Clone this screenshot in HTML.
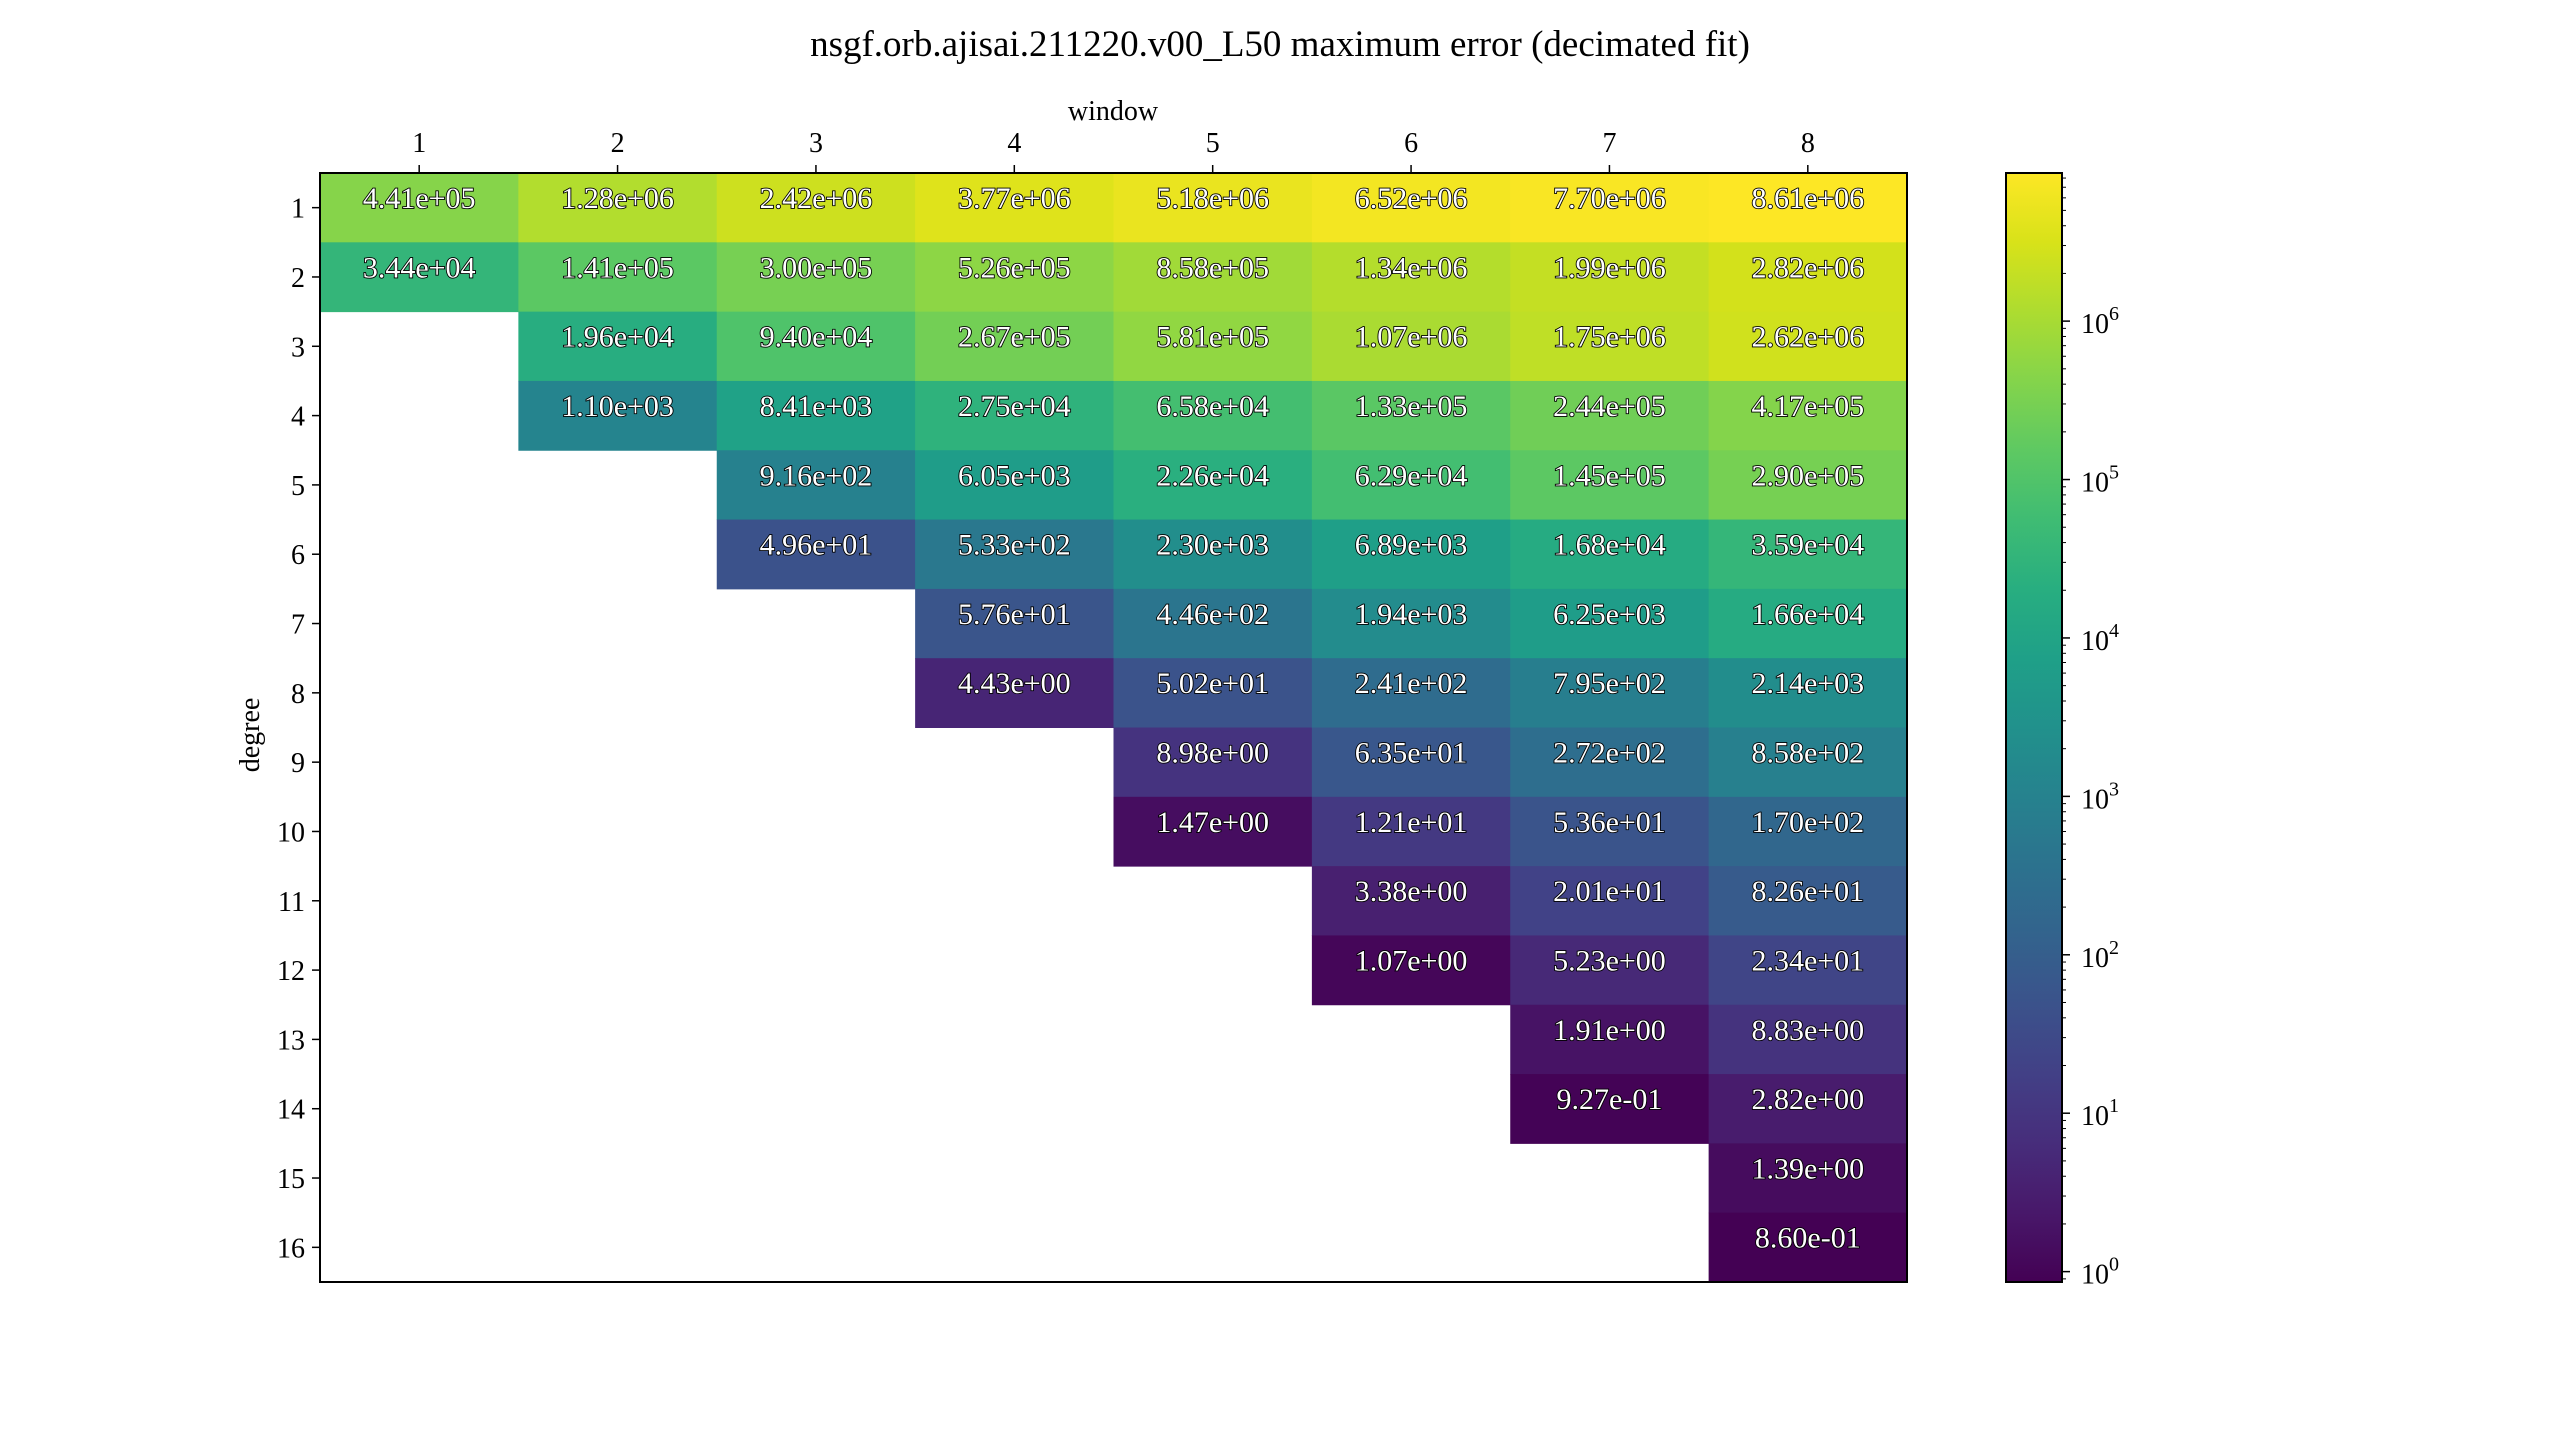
<!DOCTYPE html>
<html><head><meta charset="utf-8"><style>
html,body{margin:0;padding:0;background:#fff}
svg text{font-family:"Liberation Serif","Times New Roman",serif;fill:#000}
</style></head><body>
<svg id="chart" width="2560" height="1440" viewBox="0 0 2560 1440" xmlns="http://www.w3.org/2000/svg">
<defs>
<linearGradient id="viridis" x1="0" y1="1" x2="0" y2="0"></linearGradient>
</defs>
<text x="1280" y="56" text-anchor="middle" font-size="37">nsgf.orb.ajisai.211220.v00_L50 maximum error (decimated fit)</text>
<text x="1113" y="120" text-anchor="middle" font-size="28">window</text>
<text transform="translate(259,735) rotate(-90)" text-anchor="middle" font-size="28">degree</text>
<g id="cells"></g>
<rect x="320" y="173" width="1587" height="1109" fill="none" stroke="#000" stroke-width="2"/>
<g id="xticks"></g>
<g id="yticks"></g>
<g id="cbar"></g>
</svg>
<script>
const windows = [1,2,3,4,5,6,7,8];
const degrees = [1,2,3,4,5,6,7,8,9,10,11,12,13,14,15,16];
const w1 = [4.41e5,3.44e4];
const w2 = [1.28e6,1.41e5,1.96e4,1.10e3];
const w3 = [2.42e6,3.00e5,9.40e4,8.41e3,9.16e2,4.96e1];
const w4 = [3.77e6,5.26e5,2.67e5,2.75e4,6.05e3,5.33e2,5.76e1,4.43e0];
const w5 = [5.18e6,8.58e5,5.81e5,6.58e4,2.26e4,2.30e3,4.46e2,5.02e1,8.98e0,1.47e0];
const w6 = [6.52e6,1.34e6,1.07e6,1.33e5,6.29e4,6.89e3,1.94e3,2.41e2,6.35e1,1.21e1,3.38e0,1.07e0];
const w7 = [7.70e6,1.99e6,1.75e6,2.44e5,1.45e5,1.68e4,6.25e3,7.95e2,2.72e2,5.36e1,2.01e1,5.23e0,1.91e0,9.27e-1];
const w8 = [8.61e6,2.82e6,2.62e6,4.17e5,2.90e5,3.59e4,1.66e4,2.14e3,8.58e2,1.70e2,8.26e1,2.34e1,8.83e0,2.82e0,1.39e0,8.60e-1];
const columns = [w1,w2,w3,w4,w5,w6,w7,w8];
const cbarExponents = [0,1,2,3,4,5,6];

const NS="http://www.w3.org/2000/svg";
const L=320,T=173,R=1907,B=1282;
const cw=(R-L)/windows.length, rh=(B-T)/degrees.length;
const all=[].concat(...columns);
const vmin=Math.min(...all), vmax=Math.max(...all);
const lmin=Math.log10(vmin), lmax=Math.log10(vmax);
const vir=["#440154","#48186a","#472d7b","#424086","#3b528b","#33638d","#2c728e","#26828e","#21918c","#1fa088","#28ae80","#3fbc73","#5ec962","#84d44b","#addc30","#d8e219","#fde725"];
function hex(h){return [1,3,5].map(i=>parseInt(h.substr(i,2),16));}
function cmap(t){t=Math.max(0,Math.min(1,t));const p=t*(vir.length-1);const i=Math.min(Math.floor(p),vir.length-2);const f=p-i;const a=hex(vir[i]),b=hex(vir[i+1]);return "rgb("+a.map((v,k)=>Math.round(v+(b[k]-v)*f)).join(",")+")";}
function norm(v){return (Math.log10(v)-lmin)/(lmax-lmin);}
function xPos(w){return L+(w-0.5)*cw;}
function yPos(d){return T+(d-0.5)*rh;}
function fmt(v){const s=v.toExponential(2);const [m,e]=s.split("e");const sign=e[0];let d=e.slice(1);if(d.length<2)d="0"+d;return m+"e"+sign+d;}
function mk(tag,attrs,parent){const el=document.createElementNS(NS,tag);for(const k in attrs)el.setAttribute(k,attrs[k]);parent.appendChild(el);return el;}

const cells=document.getElementById("cells");
columns.forEach((col,ci)=>{
  col.forEach((v,ri)=>{
    const x=xPos(windows[ci])-cw/2, y=yPos(degrees[ri])-rh/2;
    const r=mk("rect",{x:x,y:y,width:cw+0.5,height:rh+0.5,fill:cmap(norm(v))},cells);
    
    
    const t=mk("text",{x:xPos(windows[ci]),y:y+35,"text-anchor":"middle","font-size":"30",fill:"#fff",stroke:"#000","stroke-width":"1.8","paint-order":"stroke"},cells);
    
    
    t.style.fill="#fff";
    t.textContent=fmt(v);
  });
});
const xt=document.getElementById("xticks");
windows.forEach(w=>{
  const l=mk("line",{x1:xPos(w),x2:xPos(w),y1:T,y2:T-8,stroke:"#000","stroke-width":"1.5"},xt);
  
  
  const t=mk("text",{x:xPos(w),y:152,"text-anchor":"middle","font-size":"28"},xt);
  
  
  t.textContent=w;
});
const yt=document.getElementById("yticks");
degrees.forEach(d=>{
  const l=mk("line",{x1:L,x2:L-8,y1:yPos(d),y2:yPos(d),stroke:"#000","stroke-width":"1.5"},yt);
  
  
  const t=mk("text",{x:305,y:yPos(d)+10,"text-anchor":"end","font-size":"28"},yt);
  
  
  t.textContent=d;
});
const grad=document.getElementById("viridis");
vir.forEach((c,i)=>{mk("stop",{offset:(i/(vir.length-1)),"stop-color":c},grad);});
const cb=document.getElementById("cbar");
const CL=2006,CR=2062;
function cy(v){return B-norm(v)*(B-T);}
const bar=mk("rect",{x:CL,y:T,width:CR-CL,height:B-T,fill:"url(#viridis)",stroke:"#000","stroke-width":"2"},cb);


for(let e=-1;e<=7;e++){
  for(let m=1;m<=9;m++){
    const v=m*Math.pow(10,e);
    if(v<vmin||v>vmax)continue;
    const y=cy(v);
    const tk=mk("line",{x1:CR,x2:CR+(m===1?8:4),y1:y,y2:y,stroke:"#000","stroke-width":m===1?"1.5":"1"},cb);
    
    
  }
}
cbarExponents.forEach(e=>{
  const y=cy(Math.pow(10,e));
  const t=mk("text",{x:2081,y:y+12,"font-size":"28"},cb);
  
  
  t.textContent="10";
  const s=mk("tspan",{dy:"-13","font-size":"20"},t);
  s.textContent=e;
});
</script>
</body></html>
